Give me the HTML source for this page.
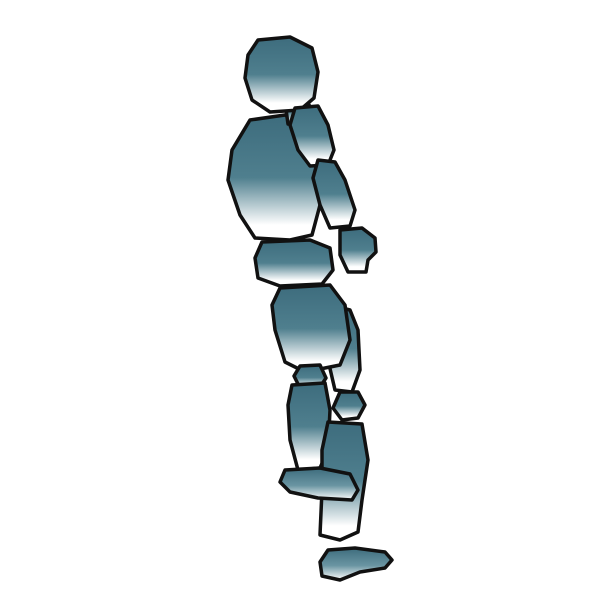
<!DOCTYPE html>
<html><head><meta charset="utf-8"><style>
html,body{margin:0;padding:0;background:#fff;width:600px;height:600px;overflow:hidden}
</style></head><body>
<svg width="600" height="600" viewBox="0 0 600 600">
<defs>
<linearGradient id="g" x1="0" y1="0" x2="0" y2="1">
<stop offset="0" stop-color="#3d6c7d"/><stop offset="0.5" stop-color="#4f7f8e"/><stop offset="0.88" stop-color="#fff"/><stop offset="1" stop-color="#fff"/>
</linearGradient>
<linearGradient id="g2" x1="0" y1="0" x2="0" y2="1">
<stop offset="0" stop-color="#3d6c7d"/><stop offset="0.55" stop-color="#6a95a2"/><stop offset="1" stop-color="#fff"/>
</linearGradient>
</defs>
<g stroke="#111" stroke-width="3.5" stroke-linejoin="round" fill="url(#g)">
<path d="M330 305 L350 310 L358 330 L360 370 L352 392 L335 390 L328 360 Z"/>
<path d="M250 120 L285 115 L310 130 L322 160 L320 205 L312 235 L290 240 L255 238 L240 215 L228 180 L232 150 Z"/>
<path d="M285 102 L305 98 L312 110 L305 126 L288 124 Z"/>
<path d="M258 40 L290 37 L312 48 L318 72 L314 98 L300 110 L270 112 L252 100 L245 78 L248 55 Z"/>
<path d="M295 108 L318 106 L328 125 L334 150 L328 165 L310 166 L298 150 L290 125 Z"/>
<path d="M318 160 L335 162 L345 180 L355 210 L350 226 L330 228 L320 205 L313 178 Z"/>
<path d="M340 230 L362 228 L375 238 L376 252 L368 260 L366 272 L348 272 L340 255 Z"/>
<path d="M262 242 L310 240 L330 248 L333 270 L322 284 L280 286 L258 278 L255 258 Z"/>
<path d="M280 288 L330 285 L345 305 L350 340 L340 365 L305 372 L285 362 L275 330 L272 305 Z"/>
<path d="M300 366 L320 365 L326 378 L318 390 L300 388 L294 376 Z"/>
<path d="M292 385 L325 383 L330 410 L328 450 L320 468 L298 470 L290 440 L288 405 Z"/>
<path d="M340 392 L358 392 L365 405 L358 418 L342 420 L333 408 Z"/>
<path d="M328 422 L362 424 L368 460 L362 500 L358 532 L340 540 L320 535 L322 490 L322 450 Z"/>
<path fill="url(#g2)" d="M285 470 L320 468 L350 474 L358 490 L352 500 L318 498 L290 492 L280 482 Z"/>
<path fill="url(#g2)" d="M328 550 L355 548 L385 552 L392 560 L385 568 L360 572 L340 580 L322 576 L320 562 Z"/>
</g>
</svg>
</body></html>
